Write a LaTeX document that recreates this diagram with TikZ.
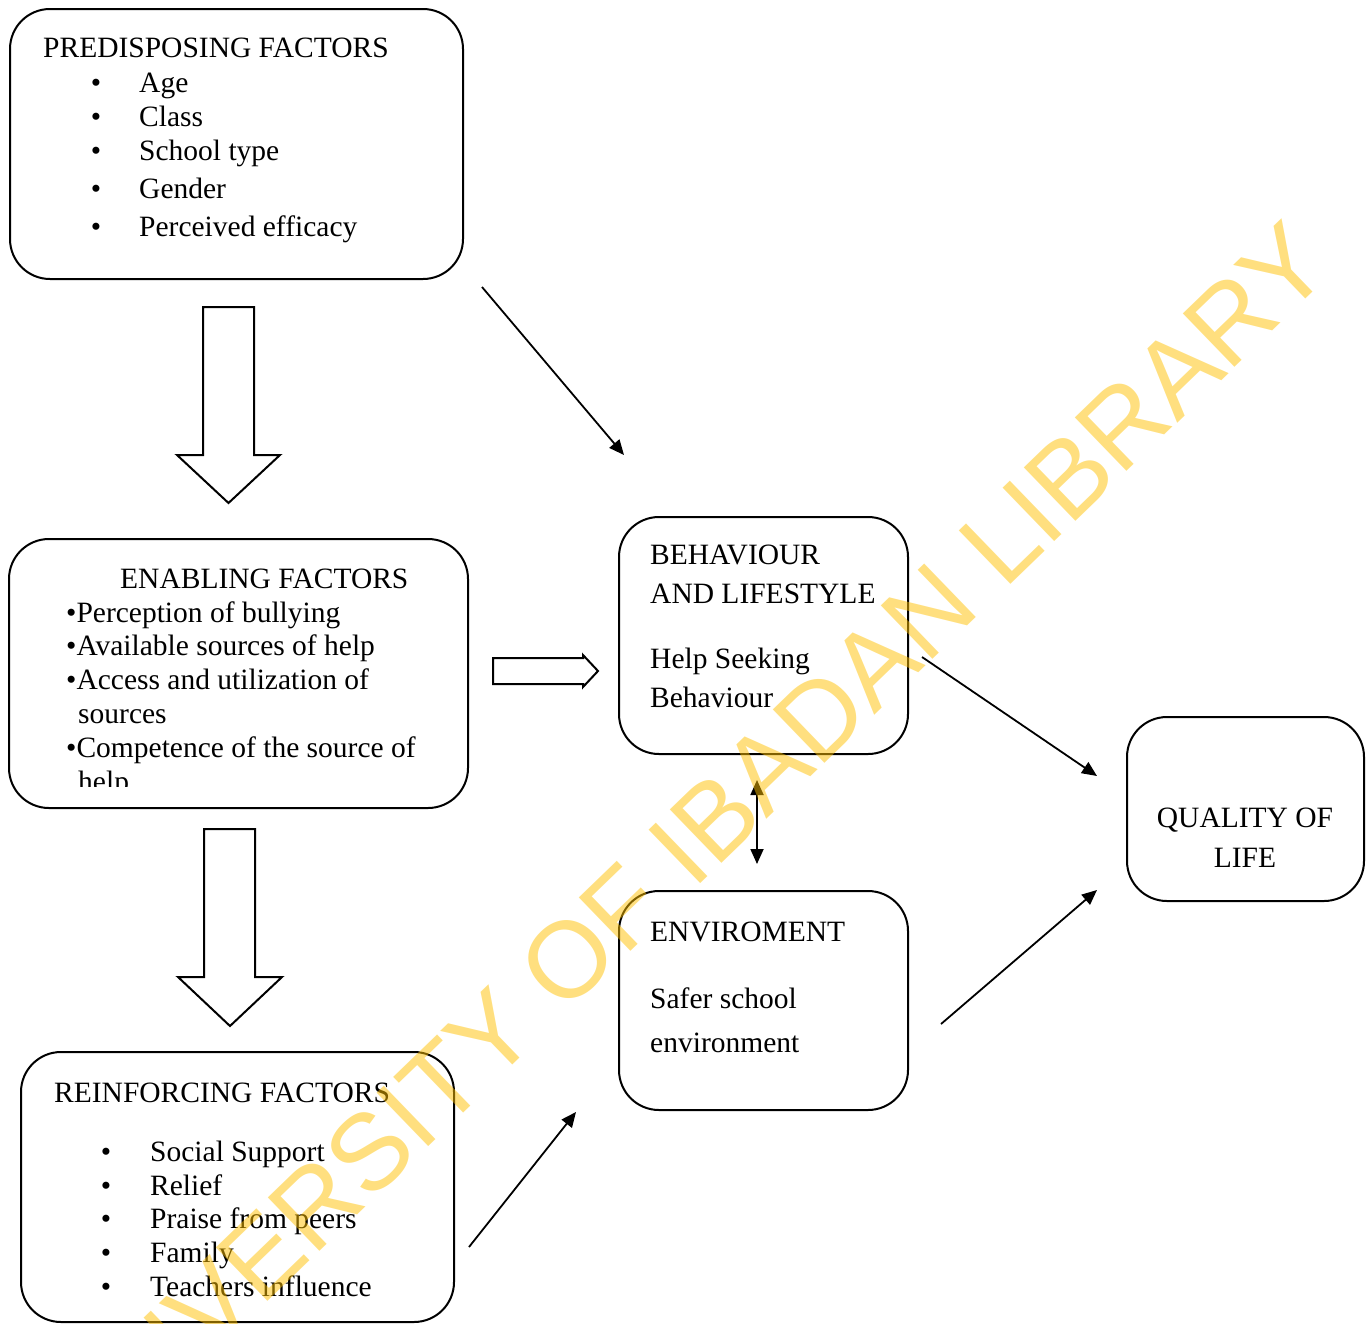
\documentclass[tikz,border=0pt]{standalone}
\usepackage{fontspec}
\setmainfont{Liberation Serif}
\newfontfamily\wmfont{Liberation Sans}
\usetikzlibrary{arrows.meta,positioning}
\definecolor{wmyellow}{RGB}{255,192,0}

\begin{document}
\begin{tikzpicture}[x=1pt,y=-1pt,
  box/.style={draw, line width=2pt, rounded corners=40pt, inner sep=0pt},
  txt/.style={anchor=base west, inner sep=0pt, font=\fontsize{29.5}{34}\selectfont},
  bul/.style={anchor=base, inner sep=0pt, font=\fontsize{29.5}{34}\selectfont},
  hollow/.style={draw, line width=2pt, fill=white, line join=miter},
  link/.style={line width=1.8pt, -{Triangle[length=15pt,width=13pt]}},
  watermark/.style={text=wmyellow, text opacity=0.5, inner sep=0pt,
    font=\wmfont\fontsize{108}{108}\selectfont, rotate=44}]

\useasboundingbox (0,0) rectangle (1370,1323);

% boxes
\node[box, minimum width=453pt, minimum height=270pt] (pre) at (236.5,144)  {};
\node[box, minimum width=459pt, minimum height=269pt] (en)  at (238.5,673.5) {};
\node[box, minimum width=433pt, minimum height=270pt] (re)  at (237.5,1187)  {};
\node[box, minimum width=289pt, minimum height=237pt] (beh) at (763.5,635.5) {};
\node[box, minimum width=289pt, minimum height=219pt] (env) at (763.5,1000.5) {};
\node[box, minimum width=237pt, minimum height=184pt] (qol) at (1245.5,809)  {};

% predisposing
\node[txt] (preh) at (43,57) {PREDISPOSING FACTORS};
\foreach \t/\y [count=\i] in {Age/92, Class/126, School type/160, Gender/198, Perceived efficacy/236} {
  \node[bul] (pb\i) at (96,\y) {\textbullet};
  \node[txt] (pi\i) at (139,\y) {\t};
}

% enabling
\node[txt] (enh) at (120,588) {ENABLING FACTORS};
\node[txt] (e1) at (66,622) {\textbullet Perception of bullying};
\node[txt] (e2) at (66,655) {\textbullet Available sources of help};
\node[txt] (e3) at (66,689) {\textbullet Access and utilization of};
\node[txt] (e3b) at (78,723) {sources};
\node[txt] (e4) at (66,757) {\textbullet Competence of the source of};
\begin{scope}
  \clip (60,760) rectangle (200,786);
  \node[txt] (e4b) at (78,791) {help};
\end{scope}

% reinforcing
\node[txt] (reh) at (54,1102) {REINFORCING FACTORS};
\foreach \t/\y [count=\i] in {Social Support/1161, Relief/1195, Praise from peers/1228, Family/1262, Teachers influence/1296} {
  \node[bul] (rb\i) at (106,\y) {\textbullet};
  \node[txt] (ri\i) at (150,\y) {\t};
}

% behaviour, environment, quality of life
\node[txt] (beh1) at (650,564) {BEHAVIOUR};
\node[txt] (beh2) at (650,603) {AND LIFESTYLE};
\node[txt] (beh3) at (650,668) {Help Seeking};
\node[txt] (beh4) at (650,707) {Behaviour};
\node[txt] (env1) at (650,941) {ENVIROMENT};
\node[txt] (env2) at (650,1008) {Safer school};
\node[txt] (env3) at (650,1052) {environment};
\node[bul] (qol1) at (1245,827) {QUALITY OF};
\node[bul] (qol2) at (1245,867) {LIFE};

% block arrows
\draw[hollow] (203,307) -- (254,307) -- (254,455) -- (280,455) -- (228.5,503) -- (177,455) -- (203,455) -- cycle;
\draw[hollow] (204,829) -- (255,829) -- (255,977) -- (282,977) -- (230,1026) -- (178,977) -- (204,977) -- cycle;
\draw[hollow] (493,658) -- (583,658) -- (583,655) -- (598,671) -- (583,687) -- (583,684) -- (493,684) -- cycle;

% line arrows
\coordinate (a1s) at (482,287);
\coordinate (a1e) at (624,455);
\coordinate (a2s) at (922,657);
\coordinate (a2e) at (1097,776);
\coordinate (a3s) at (941,1024);
\coordinate (a3e) at (1097,890);
\coordinate (a4s) at (469,1247);
\coordinate (a4e) at (576,1112);
\coordinate (d1) at (757,780);
\coordinate (d2) at (757,864);
\draw[link] (a1s) -- (a1e);
\draw[link] (a2s) -- (a2e);
\draw[link] (a3s) -- (a3e);
\draw[link] (a4s) -- (a4e);
\draw[link, {Triangle[length=15pt,width=13pt]}-{Triangle[length=15pt,width=13pt]}] (d1) -- (d2);

% watermark
\node[watermark] (wm) at (680,852) {UNIVERSITY OF IBADAN LIBRARY};
\end{tikzpicture}
\end{document}
